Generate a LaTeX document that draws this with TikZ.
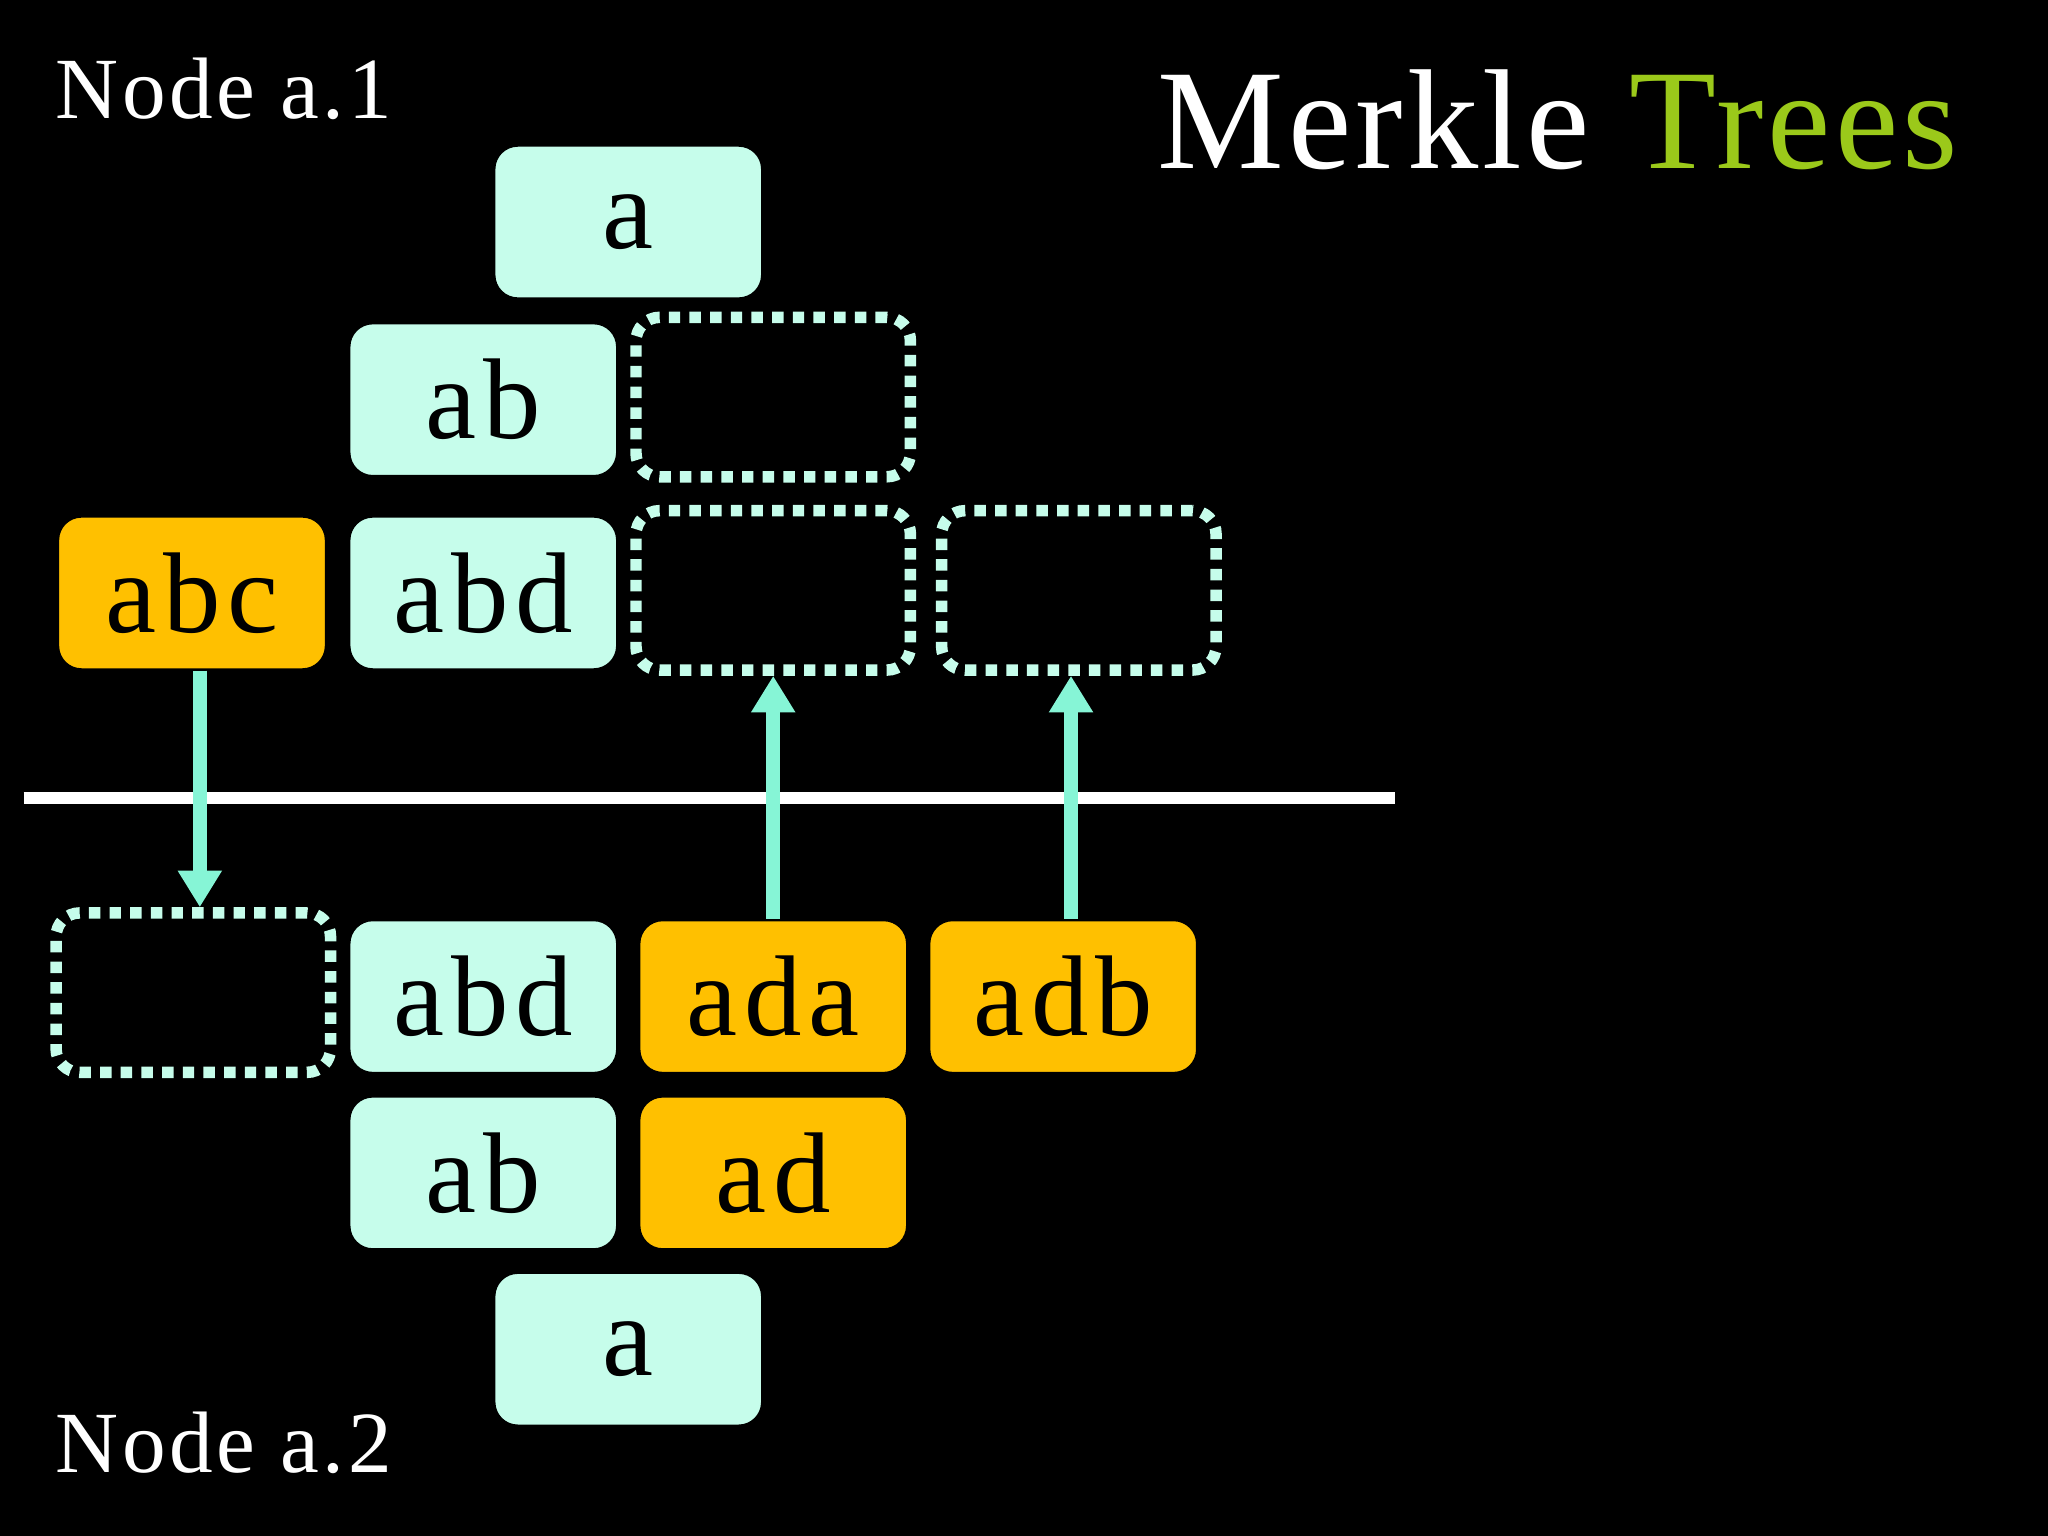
\documentclass[tikz,border=0pt]{standalone}
\usepackage{fontspec}
\setmainfont{Liberation Serif}
\usetikzlibrary{arrows.meta}
\definecolor{mint}{HTML}{C6FDEB}
\definecolor{gold}{HTML}{FFC000}
\definecolor{aqua}{HTML}{86F5D6}
\definecolor{lime}{HTML}{9BC91A}
\tikzset{
 box/.style={rounded corners=0.18cm,minimum width=2.05cm,minimum height=1.17cm,inner sep=0pt,font=\fontsize{25}{25}\selectfont\addfontfeatures{LetterSpace=6},text=black,draw=black,line width=0.5pt},
 mbox/.style={box,fill=mint},
 obox/.style={box,fill=gold},
 ebox/.style={rounded corners=0.18cm,minimum width=2.1cm,minimum height=1.22cm,inner sep=0pt,draw=mint,dotted,line width=2.5pt},
 link/.style={draw=aqua,line width=3pt,-{Triangle[length=0.28cm,width=0.32cm]}},
 lab/.style={anchor=west,inner sep=0pt,text=white,font=\fontsize{19}{19}\selectfont\addfontfeatures{LetterSpace=4}},
}
\begin{document}
\begin{tikzpicture}[x=0.01cm,y=-0.01cm]
\fill[black] (0,0) rectangle (1568,1176);
\node[lab] (n1) at (42,68) {Node a.1};
\node[lab] (n2) at (42,1105) {Node a.2};
\node[anchor=east,inner sep=0pt,font=\fontsize{31}{31}\selectfont\addfontfeatures{LetterSpace=3}] (title) at (1500,92) {\textcolor{white}{Merkle} \textcolor{lime}{Trees}};
\node[mbox] (a1) at (481,170) {a};
\node[mbox] (ab1) at (370,306) {ab};
\node[ebox] (e1) at (592,304) {};
\node[obox] (abc) at (147,454) {abc};
\node[mbox] (abd1) at (370,454) {abd};
\node[ebox] (e2) at (592,452) {};
\node[ebox] (e3) at (826,452) {};
\draw[white,line width=2.5pt] (18,611) coordinate (l1) -- (1068,611) coordinate (l2);
\node[ebox] (e4) at (148,760) {};
\node[mbox] (abd2) at (370,763) {abd};
\node[obox] (ada) at (592,763) {ada};
\node[obox] (adb) at (814,763) {adb};
\node[mbox] (ab2) at (370,898) {ab};
\node[obox] (ad) at (592,898) {ad};
\node[mbox] (a2) at (481,1033) {a};
\draw[link] (abc.south -| 153,0) -- (e4.north -| 153,0);
\draw[link] (ada.north) -- (e2.south);
\draw[link] (adb.north -| 820,0) -- (e3.south -| 820,0);
\end{tikzpicture}
\end{document}
